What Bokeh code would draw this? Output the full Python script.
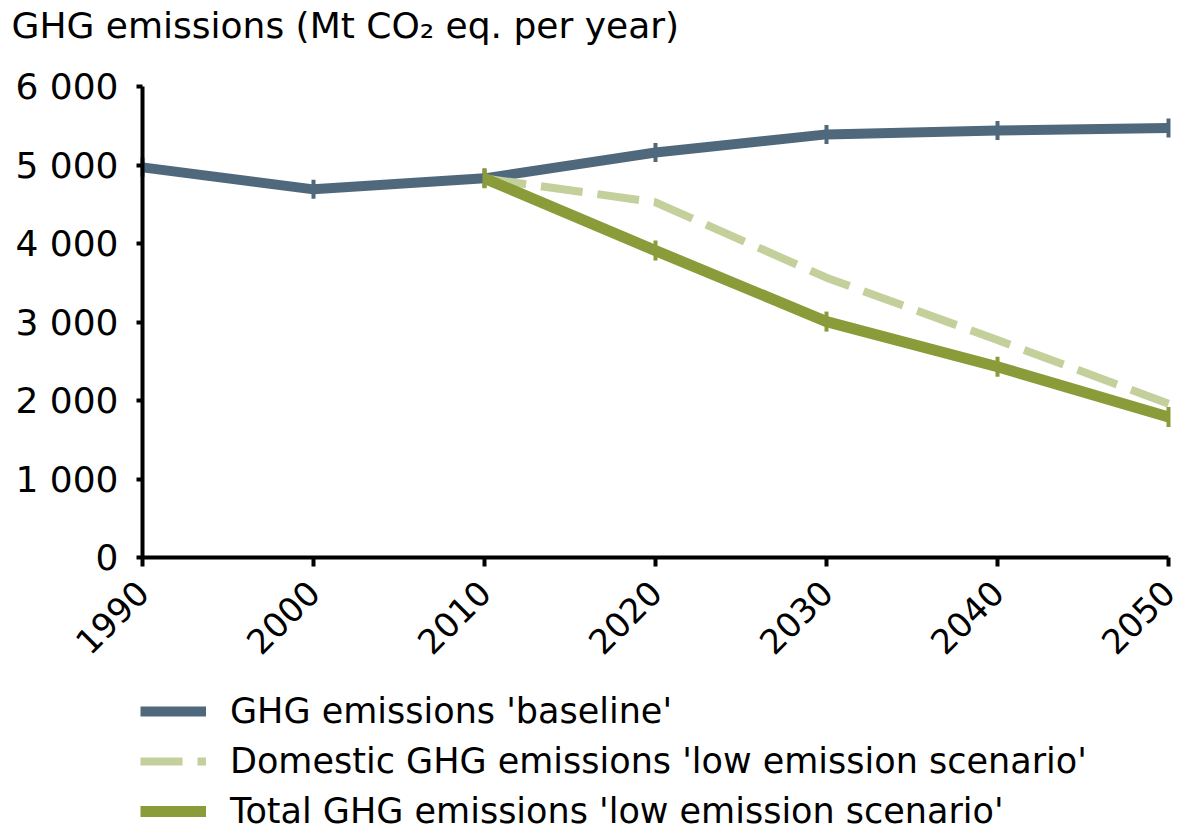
import math
from bokeh.plotting import figure
from bokeh.models import FixedTicker, Legend, LegendItem, Range1d, Label
from bokeh.embed import file_html
from bokeh.resources import INLINE

years = [1990, 2000, 2010, 2020, 2030, 2040, 2050]
baseline = [4970, 4690, 4830, 5160, 5390, 5440, 5470]
low_years = [2010, 2020, 2030, 2040, 2050]
domestic_low = [4830, 4525, 3565, 2770, 1960]
total_low = [4830, 3910, 3005, 2430, 1790]

y_ticks = [0, 1000, 2000, 3000, 4000, 5000, 6000]
y_tick_labels = ["0", "1 000", "2 000", "3 000", "4 000", "5 000", "6 000"]
x_ticks = [1990, 2000, 2010, 2020, 2030, 2040, 2050]

title_text = "GHG emissions (Mt CO\u2082 eq. per year)"
names = ["GHG emissions 'baseline'",
         "Domestic GHG emissions 'low emission scenario'",
         "Total GHG emissions 'low emission scenario'"]
colors = ["#50687C", "#C3D09B", "#8A9B3A"]

FONT = "DejaVu Sans"
W, H = 1182, 834
# plot area placement (pixels) inside the canvas
LEFT, RIGHT, TOP, BOTTOM = 142, 1168, 86, 557
X0, X1 = x_ticks[0], x_ticks[-1]
Y0, Y1 = y_ticks[0], y_ticks[-1]
xs = (X1 - X0) / (RIGHT - LEFT)
ys = (Y1 - Y0) / (BOTTOM - TOP)

p = figure(width=W, height=H, output_backend="svg", toolbar_location=None,
           x_range=Range1d(X0 - LEFT * xs, X1 + (W - RIGHT) * xs),
           y_range=Range1d(Y0 - (H - BOTTOM) * ys, Y1 + TOP * ys),
           min_border=0)
p.outline_line_color = None
p.grid.visible = False
p.background_fill_color = "white"
p.border_fill_color = "white"

p.xaxis.fixed_location = Y0
p.yaxis.fixed_location = X0
p.xaxis.bounds = (X0, X1)
p.yaxis.bounds = (Y0, Y1)
p.yaxis.ticker = FixedTicker(ticks=y_ticks)
p.yaxis.major_label_overrides = {t: l for t, l in zip(y_ticks, y_tick_labels)}
p.xaxis.ticker = FixedTicker(ticks=x_ticks)
p.xaxis.major_label_orientation = math.pi / 4
for ax in (p.xaxis, p.yaxis):
    ax.axis_line_width = 4
    ax.axis_line_color = "black"
    ax.major_tick_line_width = 4
    ax.major_tick_line_color = "black"
    ax.minor_tick_line_color = None
    ax.major_label_text_font = FONT
    ax.major_label_text_color = "black"
p.yaxis.major_label_text_font_size = "36px"
p.xaxis.major_label_text_font_size = "34px"
p.yaxis.major_tick_out = 6
p.yaxis.major_tick_in = 0
p.yaxis.major_label_standoff = 18
p.xaxis.major_tick_out = 9
p.xaxis.major_tick_in = 0
p.xaxis.major_label_standoff = 20

r1 = p.line(years, baseline, line_color=colors[0], line_width=10)
m1 = p.scatter(years, baseline, marker="dash", angle=math.pi / 2, size=19,
               line_color=colors[0], line_width=4)
r2 = p.line(low_years, domestic_low, line_color=colors[1], line_width=8,
            line_dash="42 15")
r3 = p.line(low_years, total_low, line_color=colors[2], line_width=11)
m3 = p.scatter(low_years, total_low, marker="dash", angle=math.pi / 2, size=20,
               line_color=colors[2], line_width=4)

title = Label(x=11, y=H - 25, x_units="screen", y_units="screen",
              text=title_text, text_font=FONT, text_font_size="36px",
              text_color="black", text_baseline="alphabetic")
p.add_layout(title)

legend = Legend(items=[LegendItem(label=names[0], renderers=[r1, m1]),
                       LegendItem(label=names[1], renderers=[r2]),
                       LegendItem(label=names[2], renderers=[r3, m3])],
                location=(140, -2), orientation="vertical",
                border_line_color=None, background_fill_alpha=0,
                padding=0, margin=0, spacing=0,
                glyph_width=66, glyph_height=20, label_height=50,
                label_standoff=24,
                label_text_font=FONT, label_text_font_size="35px",
                label_text_color="black")
p.add_layout(legend, "center")

open("out.html", "w").write(file_html(p, INLINE))
